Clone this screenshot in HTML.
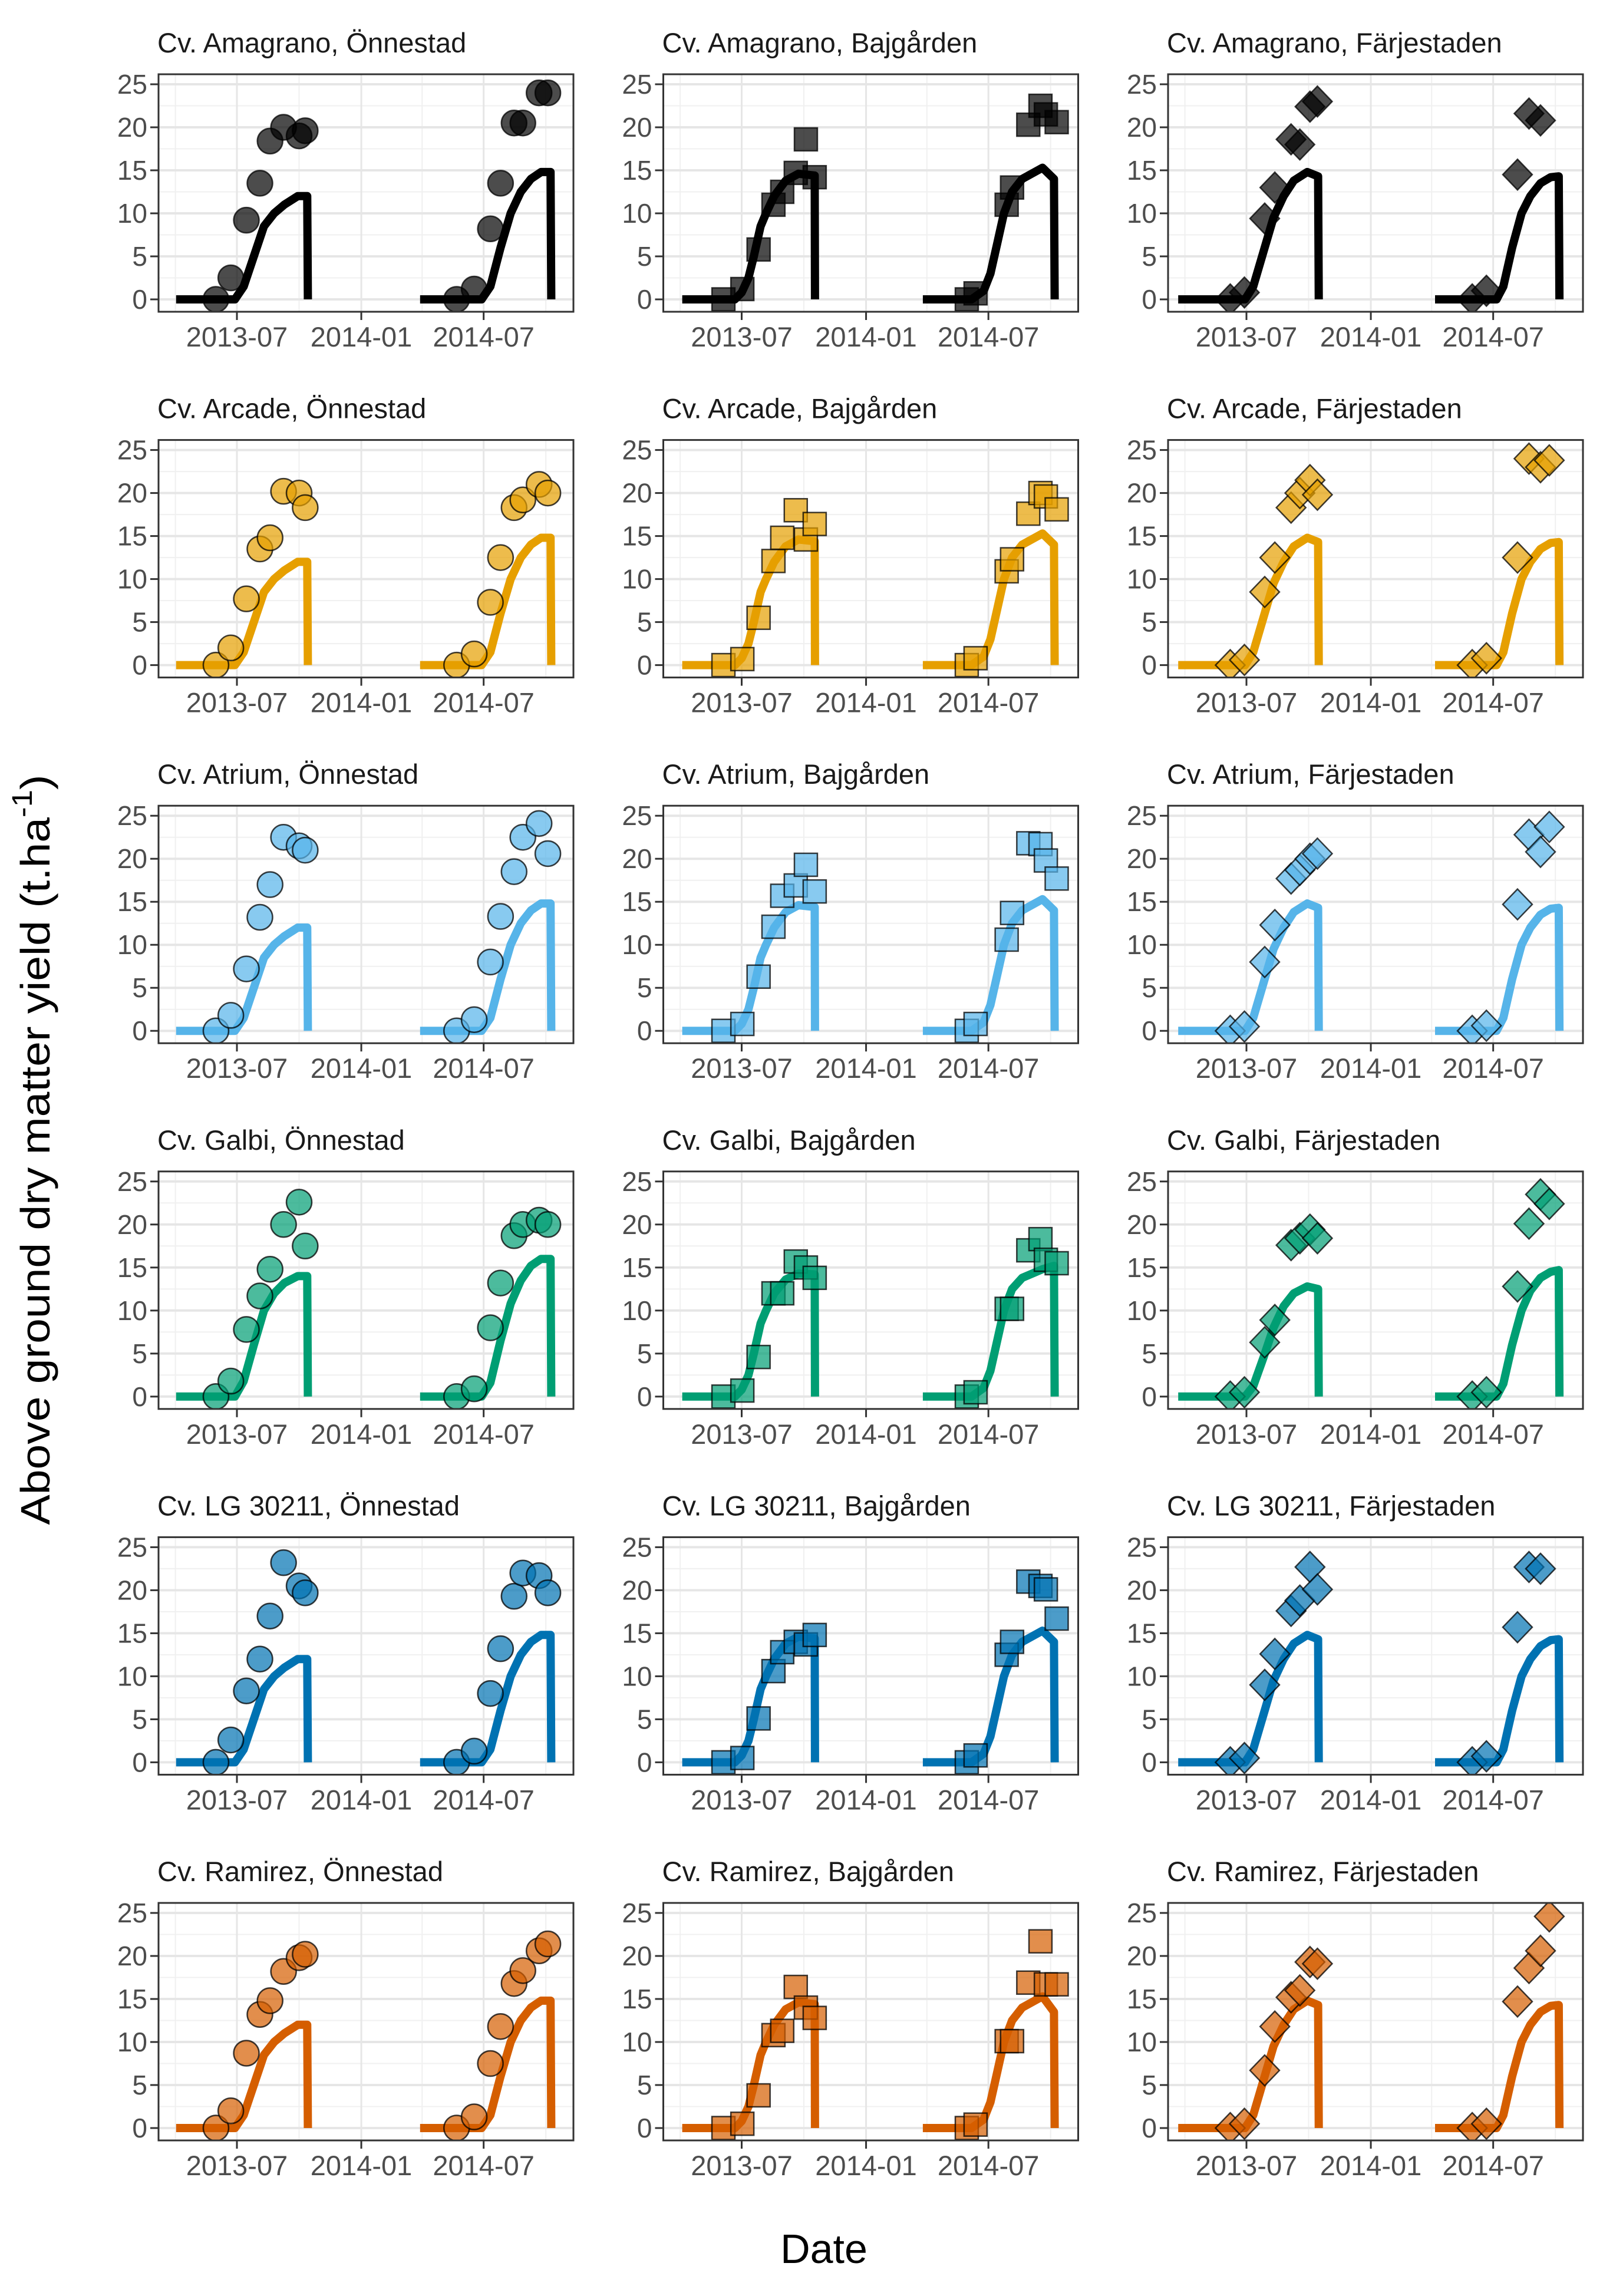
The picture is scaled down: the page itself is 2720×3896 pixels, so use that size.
<!DOCTYPE html>
<html><head><meta charset="utf-8"><style>
html,body{margin:0;padding:0;background:#fff}
svg{display:block}
text{font-family:"Liberation Sans",Arial,sans-serif}
</style></head><body>
<svg id="chart" width="2720" height="3896" viewBox="0 0 2720 3896" xmlns="http://www.w3.org/2000/svg">
<rect x="0" y="0" width="2720" height="3896" fill="#fff"/>
<text transform="translate(84,1951) rotate(-90)" text-anchor="middle" font-size="70" fill="#000" textLength="1273" lengthAdjust="spacingAndGlyphs">Above ground dry matter yield (t.ha<tspan dy="-30" font-size="48">-1</tspan><tspan dy="30">)</tspan></text>
<text x="1398" y="3840" text-anchor="middle" font-size="70" fill="#000">Date</text>
</svg>
<script>
// ---- data (days relative to 2013-07-01) ----
const cultivars = ["Amagrano","Arcade","Atrium","Galbi","LG 30211","Ramirez"];
const sites = ["Önnestad","Bajgården","Färjestaden"];
const seriesColors = ["#000000","#E69F00","#56B4E9","#009E73","#0072B2","#D55E00"];
const yTicks = [0,5,10,15,20,25];
const xTickDays = [0,184,365];
const xTickLabels = ["2013-07","2014-01","2014-07"];
const xMinorDays = [-91,92,274,457];

// sampling days per site & season
const sampleDays2013 = [[-31,-9,14,34,49,69,92,101],[-27,1,25,47,60,80,95,108],[-24,-3,27,42,66,79,94,105]];
const sampleDays2014 = [[325,351,375,390,410,423,447,460],[333,346,392,400,424,442,450,466],[334,355,401,418,435,448]];

// observed yields [cultivar][site]
const obs2013 = [
 [[0,2.5,9.2,13.5,18.4,20,19,19.6],[0,1.2,5.8,11,12.5,14.7,18.6,14.2],[0,0.8,9.4,13,18.6,18,22.4,23]],
 [[0,2,7.7,13.5,14.8,20.2,20,18.3],[0,0.7,5.5,12.1,14.8,18,14.6,16.4],[0,0.6,8.5,12.5,18.3,20,21.5,19.8]],
 [[0,1.8,7.2,13.2,17,22.5,21.5,21],[0,0.8,6.3,12.1,15.7,16.9,19.3,16.2],[0,0.5,8,12.3,17.7,18.7,20,20.6]],
 [[0,1.8,7.8,11.7,14.8,20,22.6,17.5],[0,0.7,4.6,12,12,15.7,15,13.8],[0,0.5,6.3,8.9,17.6,18.4,19.4,18.4]],
 [[0,2.6,8.3,12,17,23.2,20.5,19.7],[0,0.5,5.1,10.6,12.8,14,13.7,14.8],[0,0.5,9,12.6,17.6,18.8,22.7,20.1]],
 [[0,2,8.7,13.2,14.8,18.2,19.8,20.2],[0,0.5,3.8,10.8,11.3,16.4,14,12.8],[0,0.5,6.7,11.8,15.2,16,19.3,19.1]]
];
const obs2014 = [
 [[0,1.2,8.2,13.5,20.5,20.5,24,24],[0,0.7,11,13,20.3,22.5,21.5,20.6],[0,1,14.5,21.6,20.8,null]],
 [[0,1.3,7.3,12.5,18.3,19.2,21,20],[0,0.8,10.9,12.3,17.6,20,19.6,18.1],[0,0.8,12.5,24,23,23.8]],
 [[0,1.3,8,13.3,18.5,22.5,24.1,20.6],[0,0.8,10.6,13.7,21.8,21.7,19.8,17.7],[0,0.6,14.7,22.8,20.8,23.7]],
 [[0,0.9,8,13.2,18.7,20,20.5,20],[0,0.5,10.2,10.2,17,18.3,15.9,15.5],[0,0.5,12.8,20.1,23.5,22.4]],
 [[0,1.3,8,13.2,19.3,22,21.7,19.7],[0,0.8,12.5,14,21,20.5,20.1,16.7],[0,0.7,15.7,22.7,22.5,null]],
 [[0,1.3,7.5,11.8,16.8,18.3,20.6,21.4],[0,0.4,10.1,10.1,16.9,21.7,16.7,16.7],[0,0.5,14.7,18.6,20.6,24.6]]
];

// simulated curve knots per site & season
const simDays2013 = [[-90,-3,10,25,40,55,70,90,104,105],[-88,-10,0,10,18,28,36,48,65,84,108,108.5],[-101,-2,10,25,40,55,70,90,106,107]];
const simDays2014 = [[271,362,375,390,405,420,435,450,464,465],[268,340,358,368,378,388,400,415,445,462,463],[279,370,380,393,407,420,435,450,462,463]];
const sim2013 = [
 [[0,0,1.5,5,8.5,10,11,12,12,0],[0,0,0.8,2.5,5,8.5,10,12,13.8,14.6,14.4,0],[0,0,1.5,5.5,9.5,12,13.8,14.8,14.3,0]],
 [[0,0,1.5,5,8.5,10,11,12,12,0],[0,0,0.8,2.5,5,8.5,10,12,13.8,14.6,14.4,0],[0,0,1.5,5.5,9.5,12,13.8,14.8,14.3,0]],
 [[0,0,1.5,5,8.5,10,11,12,12,0],[0,0,0.8,2.5,5,8.5,10,12,13.8,14.6,14.4,0],[0,0,1.5,5.5,9.5,12,13.8,14.8,14.3,0]],
 [[0,0,1.8,6,10,12,13.2,14,14,0],[0,0,0.8,2.5,5,8.5,10,12,13.6,14.3,14.2,0],[0,0,1.2,4.5,8,10.5,12,12.8,12.5,0]],
 [[0,0,1.5,5,8.5,10,11,12,12,0],[0,0,0.8,2.5,5,8.5,10,12,13.8,14.6,14.4,0],[0,0,1.5,5.5,9.5,12,13.8,14.8,14.3,0]],
 [[0,0,1.5,5,8.5,10,11,12,12,0],[0,0,0.8,2.5,5,8.5,10,12,13.8,14.6,14.4,0],[0,0,1.5,5.5,9.5,12,13.8,14.8,14.3,0]]
];
const sim2014 = [
 [[0,0,1.5,6,10,12.5,14,14.8,14.8,0],[0,0,1,3,6.5,10,12.5,14,15.3,14,0],[0,0,1.5,6,10,12,13.5,14.2,14.3,0]],
 [[0,0,1.5,6,10,12.5,14,14.8,14.8,0],[0,0,1,3,6.5,10,12.5,14,15.3,14,0],[0,0,1.5,6,10,12,13.5,14.2,14.3,0]],
 [[0,0,1.5,6,10,12.5,14,14.8,14.8,0],[0,0,1,3,6.5,10,12.5,14,15.3,14,0],[0,0,1.5,6,10,12,13.5,14.2,14.3,0]],
 [[0,0,1.6,6.5,10.8,13.5,15.2,16,16,0],[0,0,1,3,6.5,10,12.5,13.8,14.8,15.2,0],[0,0,1.5,6,10,12.3,13.8,14.5,14.7,0]],
 [[0,0,1.5,6,10,12.5,14,14.8,14.8,0],[0,0,1,3,6.5,10,12.5,14,15.3,14,0],[0,0,1.5,6,10,12,13.5,14.2,14.3,0]],
 [[0,0,1.5,6,10,12.5,14,14.8,14.8,0],[0,0,1,3,6.5,10,12.5,14,15.3,13.5,0],[0,0,1.5,6,10,12,13.5,14.2,14.3,0]]
];

// ---- layout ----
const NS = "http://www.w3.org/2000/svg";
const svg = document.getElementById("chart");
const PW = 704, PH = 403, X0 = 269, Y0 = 126, DX = 856.5, DY = 620.6;
function mk(tag, attrs, parent){const e=document.createElementNS(NS,tag);for(const k in attrs)e.setAttribute(k,attrs[k]);(parent||svg).appendChild(e);return e;}

for(let r=0;r<6;r++){
 for(let c=0;c<3;c++){
  const left = X0 + c*DX, top = Y0 + r*DY;
  const xs = d => left + 133 + d*1.147;
  const ys = v => top + 382 - v*14.6;
  const g = mk("g",{});
  
  
  const clipId = "clip"+r+"_"+c;
  const cp = mk("clipPath",{id:clipId},g);
  mk("rect",{x:left,y:top,width:PW,height:PH},cp);
  mk("rect",{x:left,y:top,width:PW,height:PH,fill:"#fff"},g);
  for(let i=0;i<yTicks.length;i++){
   const v = yTicks[i]+2.5;
   if(ys(v)>top) mk("line",{x1:left,x2:left+PW,y1:ys(v),y2:ys(v),stroke:"#f0f0f0","stroke-width":2},g);
  }
  for(const d of xMinorDays){ mk("line",{x1:xs(d),x2:xs(d),y1:top,y2:top+PH,stroke:"#f0f0f0","stroke-width":2},g); }
  for(const v of yTicks){ mk("line",{x1:left,x2:left+PW,y1:ys(v),y2:ys(v),stroke:"#e6e6e6","stroke-width":4},g); }
  for(const d of xTickDays){ mk("line",{x1:xs(d),x2:xs(d),y1:top,y2:top+PH,stroke:"#e6e6e6","stroke-width":3},g); }
  const col = seriesColors[r];
  const data = g;
  const sims = [[simDays2013[c], sim2013[r][c]],[simDays2014[c], sim2014[r][c]]];
  sims.forEach(([days,vals],si)=>{
    const pts = days.map((d,i)=>xs(d).toFixed(1)+","+ys(vals[i]).toFixed(1)).join(" ");
    const pl = mk("polyline",{points:pts,fill:"none",stroke:col,"stroke-width":14,"stroke-linejoin":"round","stroke-linecap":"butt","clip-path":"url(#"+clipId+")"},data);
    
    
  });
  const obsSets = [[sampleDays2013[c], obs2013[r][c]],[sampleDays2014[c], obs2014[r][c]]];
  obsSets.forEach(([days,vals])=>{
    days.forEach((d,i)=>{
      const v = vals[i]; if(v==null) return;
      const x = xs(d), y = ys(v);
      let m;
      const st = {fill:col,"fill-opacity":0.7,stroke:"#000","stroke-opacity":0.75,"stroke-width":2.5,"clip-path":"url(#"+clipId+")"};
      if(c===0){ m = mk("circle",Object.assign({cx:x,cy:y,r:21.5},st),data); }
      else if(c===1){ m = mk("rect",Object.assign({x:x-19.5,y:y-19.5,width:39,height:39},st),data); }
      else { m = mk("polygon",Object.assign({points:`${x},${y-26} ${x+25},${y} ${x},${y+26} ${x-25},${y}`},st),data); }
      
      
    });
  });
  mk("rect",{x:left,y:top,width:PW,height:PH,fill:"none",stroke:"#333","stroke-width":3},g);
  for(const v of yTicks){
    mk("line",{x1:left-14,x2:left,y1:ys(v),y2:ys(v),stroke:"#333","stroke-width":3},g);
    const t = mk("text",{x:left-19,y:ys(v)+16,"text-anchor":"end","font-size":46,fill:"#4d4d4d"},g);
    t.textContent = v;
    
    
  }
  xTickDays.forEach((d,i)=>{
    mk("line",{x1:xs(d),x2:xs(d),y1:top+PH,y2:top+PH+14,stroke:"#333","stroke-width":3},g);
    const t = mk("text",{x:xs(d),y:top+PH+59,"text-anchor":"middle","font-size":47,fill:"#4d4d4d"},g);
    t.textContent = xTickLabels[i];
    
    
  });
  const tt = mk("text",{x:left-2,y:top-37,"font-size":47,fill:"#1a1a1a"},g);
  tt.textContent = "Cv. "+cultivars[r]+", "+sites[c];
  
  
 }
}
</script>
</body></html>
